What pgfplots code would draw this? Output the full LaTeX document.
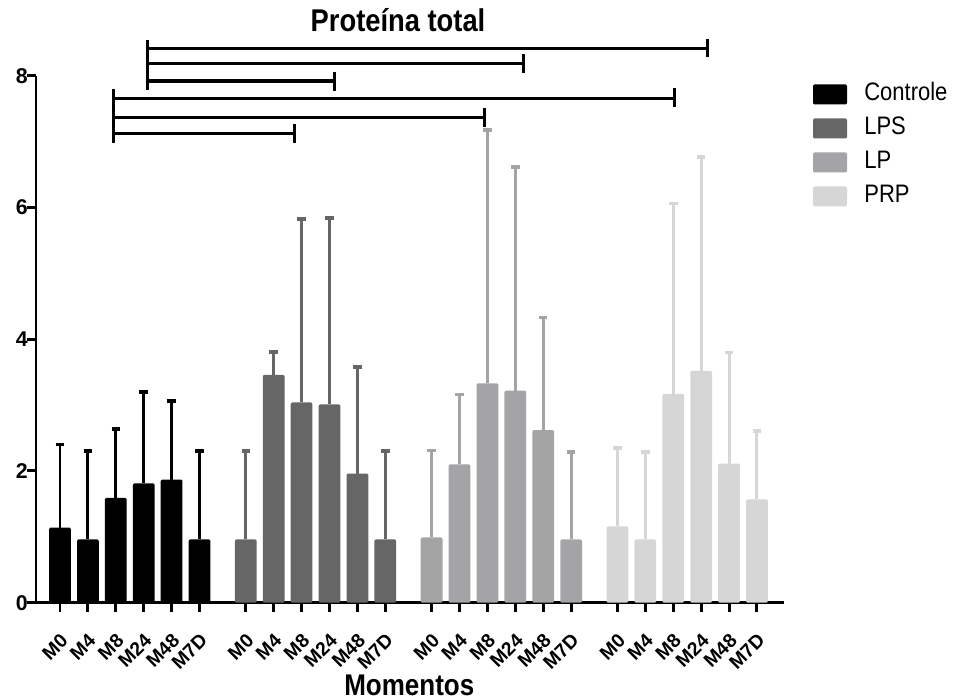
\documentclass[border=0pt]{standalone}
\usepackage{fontspec}
\setmainfont{Liberation Sans}
\usepackage{pgfplots}
\usepackage{pgfplotstable}
\pgfplotsset{compat=1.18}

\definecolor{cControle}{RGB}{0,0,0}
\definecolor{cLPS}{RGB}{102,102,102}
\definecolor{cLP}{RGB}{164,164,166}
\definecolor{cPRP}{RGB}{214,214,214}

% text is set a little taller than wide, as in the original figure
\newcommand{\tall}[1]{\scalebox{1}[1.15]{#1}}

% mean and upper SD of total protein per moment (M0, M4, M8, M24, M48, M7D)
\pgfplotstableread{
x     y     err
0     1.14  1.26
1     0.96  1.34
2     1.59  1.05
3     1.81  1.39
4     1.87  1.19
5     0.96  1.34
}\controle
\pgfplotstableread{
x     y     err
6.66  0.96  1.34
7.66  3.46  0.35
8.66  3.04  2.79
9.66  3.01  2.83
10.66 1.96  1.62
11.66 0.96  1.34
}\lps
\pgfplotstableread{
x     y     err
13.32 0.99  1.32
14.32 2.10  1.06
15.32 3.33  3.85
16.32 3.22  3.39
17.32 2.62  1.71
18.32 0.96  1.33
}\lp
\pgfplotstableread{
x     y     err
19.98 1.16  1.19
20.98 0.96  1.33
21.98 3.17  2.89
22.98 3.52  3.25
23.98 2.11  1.69
24.98 1.57  1.04
}\prp

\pgfplotsset{
  grpbar/.style={ybar, bar width=0.78, bar shift=0pt, fill=#1, draw=none,
    rounded corners=1pt,
    /pgfplots/error bars/y dir=plus,
    /pgfplots/error bars/y explicit,
    /pgfplots/error bars/error bar style={line width=2.2pt, color=#1, rounded corners=0pt},
    /pgfplots/error bars/error mark options={rotate=90, mark size=3.2pt, line width=2.8pt, color=#1}},
  bracket/.style={black, line width=2.3pt, forget plot, mark=none},
}

\begin{document}
\begin{tikzpicture}
\begin{axis}[
  scale only axis,
  width=561pt, height=395.2pt,
  xmin=-0.86, xmax=25.95,
  ymin=0, ymax=8,
  clip=false,
  axis x line*=bottom, axis y line*=left,
  axis line style={-, line width=2.2pt},
  tick style={line width=2.2pt, black},
  tick align=outside,
  major tick length=7pt,
  ytick={0,2,4,6,8},
  /pgf/number format/assume math mode=true,
  yticklabel style={font=\fontsize{16}{18}\selectfont\bfseries, inner sep=1pt, xshift=2pt},
  xtick={0,1,2,3,4,5,6.66,7.66,8.66,9.66,10.66,11.66,13.32,14.32,15.32,16.32,17.32,18.32,19.98,20.98,21.98,22.98,23.98,24.98},
  xticklabels={M0,M4,M8,M24,M48,M7D,M0,M4,M8,M24,M48,M7D,M0,M4,M8,M24,M48,M7D,M0,M4,M8,M24,M48,M7D},
  xticklabel style={font=\fontsize{14.5}{16}\selectfont\bfseries, rotate=45, anchor=north east, inner sep=1pt, yshift=-9.5pt, xshift=-10pt},
  title={\tall{Proteína total}},
  title style={font=\bfseries\fontsize{20.5}{22}\selectfont, at={(rel axis cs:0.484,1)}, anchor=base, yshift=26.9pt},
  xlabel={\tall{Momentos}},
  xlabel style={font=\bfseries\fontsize{19.5}{22}\selectfont, at={(rel axis cs:0.499,0)}, anchor=base, yshift=-69.5pt},
  legend image code/.code={\fill[#1] (0pt,-7.5pt) rectangle (25.5pt,7.5pt); \path (38.5pt,0pt);},
  legend style={at={(rel axis cs:1.0384,0.984)}, anchor=north west, draw=none, fill=none,
    inner sep=0pt, row sep=10.5pt,
    nodes={inner sep=0pt, text height=12pt, text depth=3pt},
    font=\fontsize{16.5}{18}\selectfont},
  legend cell align=left,
]
\addplot[grpbar=cControle] table[x=x, y=y, y error=err] {\controle};
\addlegendentry{\tall{Controle}}
\addplot[grpbar=cLPS] table[x=x, y=y, y error=err] {\lps};
\addlegendentry{\tall{LPS}}
\addplot[grpbar=cLP] table[x=x, y=y, y error=err] {\lp};
\addlegendentry{\tall{LP}}
\addplot[grpbar=cPRP] table[x=x, y=y, y error=err] {\prp};
\addlegendentry{\tall{PRP}}

% comparison brackets from Controle M24
\addplot[bracket] coordinates {(3.14,7.78) (3.14,8.55)};
\addplot[bracket] coordinates {(3.14,8.42) (23.21,8.42)};
\addplot[bracket] coordinates {(23.21,8.28) (23.21,8.56)};
\addplot[bracket] coordinates {(3.14,8.19) (16.60,8.19)};
\addplot[bracket] coordinates {(16.60,8.04) (16.60,8.33)};
\addplot[bracket] coordinates {(3.14,7.92) (9.83,7.92)};
\addplot[bracket] coordinates {(9.83,7.77) (9.83,8.06)};
% comparison brackets from Controle M8
\addplot[bracket] coordinates {(1.91,6.98) (1.91,7.80)};
\addplot[bracket] coordinates {(1.91,7.66) (22.04,7.66)};
\addplot[bracket] coordinates {(22.04,7.52) (22.04,7.81)};
\addplot[bracket] coordinates {(1.91,7.37) (15.20,7.37)};
\addplot[bracket] coordinates {(15.20,7.22) (15.20,7.51)};
\addplot[bracket] coordinates {(1.91,7.12) (8.42,7.12)};
\addplot[bracket] coordinates {(8.42,6.98) (8.42,7.26)};
\end{axis}
\pgfresetboundingbox
\path[use as bounding box] (-27pt,-70.7pt) rectangle (689.25pt,452pt);
\end{tikzpicture}
\end{document}
